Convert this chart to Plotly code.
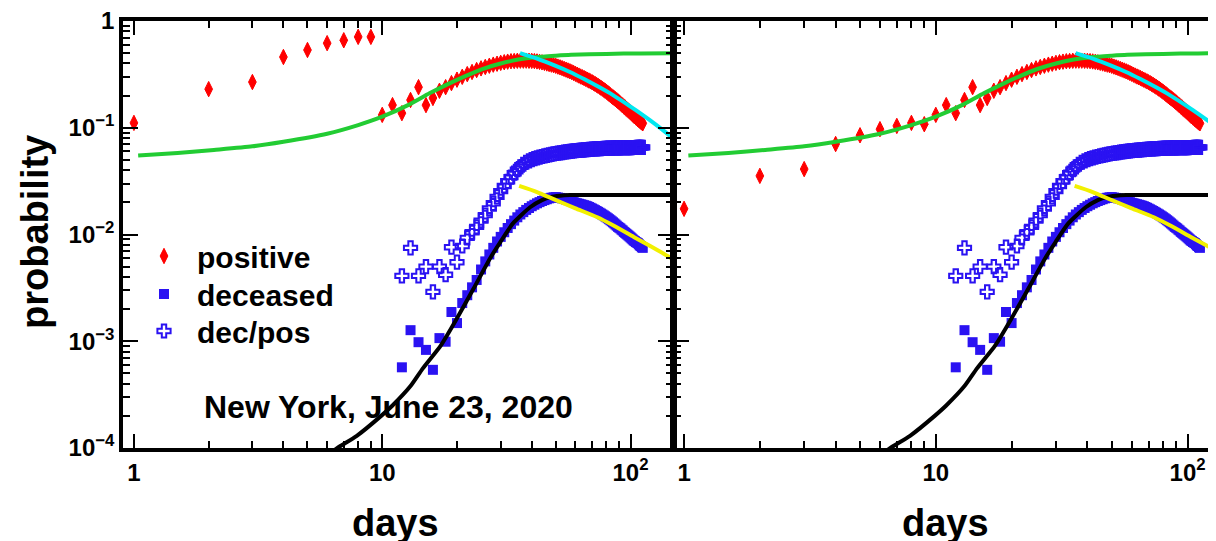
import plotly.graph_objects as go

# ---- values ----
# positive, days 1-9 (differ between the two panels)
days_early = [1, 2, 3, 4, 5, 6, 7, 8, 9]
pos_early_left = [0.111, 0.23, 0.268, 0.46, 0.535, 0.62, 0.66, 0.71, 0.71]
pos_early_right = [0.0174, 0.0354, 0.041, 0.0704, 0.085, 0.097, 0.104, 0.111, 0.108]

# positive, days 10-112 (same in both panels)
days_pos = list(range(10, 113))
pos_values = [
    0.132, 0.163, 0.137, 0.182, 0.240, 0.163, 0.190,
    0.222, 0.240, 0.262, 0.282, 0.300, 0.318, 0.333, 0.347, 0.360, 0.371,
    0.381, 0.390, 0.398, 0.405, 0.411, 0.416, 0.420, 0.422, 0.424, 0.425,
    0.425, 0.425, 0.424, 0.423, 0.421, 0.418, 0.414, 0.410, 0.405, 0.400,
    0.395, 0.390, 0.385, 0.380, 0.374, 0.368, 0.362, 0.356, 0.350, 0.344,
    0.338, 0.332, 0.326, 0.320, 0.314, 0.308, 0.302, 0.297, 0.292, 0.287,
    0.282, 0.277, 0.272, 0.267, 0.262, 0.257, 0.252, 0.247, 0.242, 0.237,
    0.232, 0.227, 0.222, 0.217, 0.212, 0.207, 0.202, 0.197, 0.193, 0.189,
    0.185, 0.181, 0.177, 0.173, 0.169, 0.165, 0.162, 0.158, 0.155, 0.151,
    0.148, 0.145, 0.142, 0.139, 0.136, 0.133, 0.130, 0.128, 0.125, 0.123,
    0.120, 0.118, 0.116, 0.114, 0.112, 0.110,
]

# deceased and dec/pos, days 12-112
days_dec = list(range(12, 113))
deceased = [
    0.00057, 0.00127, 0.00098, 0.00083, 0.00054, 0.00107, 0.00099, 0.00188, 0.00148, 0.00228,
    0.0027, 0.0032, 0.00375, 0.0047, 0.0056, 0.0065, 0.0075, 0.0086, 0.0095, 0.0105,
    0.0115, 0.0125, 0.0135, 0.0145, 0.0154, 0.0162, 0.0170, 0.0177, 0.0184, 0.0190,
    0.0196, 0.0201, 0.0206, 0.0210, 0.0214, 0.0218, 0.0221, 0.0223, 0.0224, 0.0222,
    0.0220, 0.0218, 0.0216, 0.0213, 0.0210, 0.0207, 0.0204, 0.0201, 0.0198, 0.0196,
    0.0194, 0.0192, 0.0190, 0.0188, 0.0186, 0.0184, 0.0181, 0.0178, 0.0175, 0.0172,
    0.0169, 0.0166, 0.0163, 0.0160, 0.0157, 0.0154, 0.0151, 0.0148, 0.0145, 0.0142,
    0.0139, 0.0136, 0.0133, 0.0130, 0.0127, 0.0124, 0.0121, 0.0118, 0.0116, 0.0114,
    0.0111, 0.0109, 0.0106, 0.0104, 0.0102, 0.0100, 0.0098, 0.0096, 0.0094, 0.0092,
    0.0090, 0.0088, 0.0087, 0.0085, 0.0084, 0.0083, 0.0081, 0.0079, 0.0078, 0.0076,
    0.0075,
]
dec_pos = [
    0.0041, 0.0075, 0.0041, 0.0050, 0.0029, 0.0050, 0.0042, 0.0076, 0.0055, 0.0078,
    0.0093, 0.0105, 0.0118, 0.0135, 0.0152, 0.0175, 0.0196, 0.0225, 0.0255, 0.0285,
    0.0315, 0.0345, 0.0375, 0.0405, 0.0430, 0.0455, 0.0475, 0.0490, 0.0503, 0.0513,
    0.0522, 0.0530, 0.0538, 0.0545, 0.0552, 0.0558, 0.0564, 0.0569, 0.0574, 0.0578,
    0.0582, 0.0586, 0.0590, 0.0594, 0.0597, 0.0600, 0.0603, 0.0606, 0.0609, 0.0612,
    0.0614, 0.0616, 0.0618, 0.0620, 0.0622, 0.0624, 0.0626, 0.0628, 0.0630, 0.0632,
    0.0633, 0.0635, 0.0636, 0.0637, 0.0638, 0.0639, 0.0640, 0.0641, 0.0642, 0.0643,
    0.0644, 0.0645, 0.0645, 0.0646, 0.0647, 0.0647, 0.0648, 0.0648, 0.0649, 0.0649,
    0.0650, 0.0650, 0.0650, 0.0651, 0.0651, 0.0651, 0.0652, 0.0652, 0.0652, 0.0652,
    0.0653, 0.0653, 0.0653, 0.0653, 0.0654, 0.0654, 0.0654, 0.0654, 0.0655, 0.0655,
    0.0655,
]

# fitted curves
green_x = [1.04, 1.5, 2.1, 3, 4, 6, 8, 10, 12.7, 15.5, 18.3, 21.6, 25.3, 30, 35.3, 41.4, 50, 57.6, 80, 110, 150]
green_y = [0.055, 0.058, 0.062, 0.067, 0.074, 0.088, 0.106, 0.127, 0.163, 0.21, 0.255, 0.305, 0.355, 0.40,
           0.435, 0.458, 0.473, 0.482, 0.492, 0.497, 0.50]
cyan_x = [35.9, 42, 50, 57, 65, 75, 85, 95, 105, 120, 135, 150]
cyan_y = [0.50, 0.445, 0.38, 0.333, 0.286, 0.239, 0.202, 0.171, 0.146, 0.117, 0.095, 0.078]
black_x = [6.0, 6.6, 7.9, 9.9, 11.0, 13, 14.6, 17.2, 20, 23.3, 27.2, 29.9, 33.6, 39.4, 44, 47.5, 52, 57, 80, 150]
black_y = [8.5e-5, 1.0e-4, 1.3e-4, 2.0e-4, 2.5e-4, 3.8e-4, 5.6e-4, 9.1e-4, 1.64e-3, 3.1e-3, 6.0e-3, 8.5e-3,
           1.27e-2, 1.8e-2, 2.1e-2, 2.24e-2, 2.31e-2, 2.34e-2, 2.34e-2, 2.34e-2]
yellow_x = [35.6, 42, 50, 60, 73.5, 85, 103, 120, 144, 150]
yellow_y = [0.0285, 0.025, 0.021, 0.0176, 0.0145, 0.0122, 0.0095, 0.0078, 0.0061, 0.0057]

x_tickvals = [1, 10, 100]
x_ticktext = ["1", "10", "10<sup>2</sup>"]
y_tickvals = [1e-4, 1e-3, 1e-2, 1e-1, 1]
y_ticktext = ["10<sup>\u22124</sup>", "10<sup>\u22123</sup>", "10<sup>\u22122</sup>", "10<sup>\u22121</sup>", "1"]

# the page puts the plot 8px in from the top-left corner, so the figure is 8px smaller
OFF = 8
W, H = 1216 - OFF, 541 - OFF


def fx(p):
    # window pixel -> paper x
    return (p - OFF) / W


def fy(p):
    # window pixel -> paper y
    return 1 - (p - OFF) / H


FONT = "Liberation Sans"
RED = "#ff0000"
BLUE = "#2a12f2"

fig = go.Figure()

# one small legend box per entry so each row sits where the reference has it
legend_rows = {"positive": ("legend", 256), "deceased": ("legend2", 294), "dec/pos": ("legend3", 331)}

for panel, pos_early in (("", pos_early_left), ("2", pos_early_right)):
    xa, ya = "x" + panel, "y" + panel
    first = panel == ""
    fig.add_trace(go.Scatter(
        x=days_early + days_pos, y=pos_early + pos_values, xaxis=xa, yaxis=ya,
        mode="markers", name="positive", showlegend=first, legend=legend_rows["positive"][0],
        marker=dict(symbol="diamond-tall", size=11, color=RED, line=dict(color=RED, width=1)),
    ))
    fig.add_trace(go.Scatter(
        x=days_dec, y=deceased, xaxis=xa, yaxis=ya,
        mode="markers", name="deceased", showlegend=first, legend=legend_rows["deceased"][0],
        marker=dict(symbol="square", size=10, color=BLUE, line=dict(width=0)),
    ))
    fig.add_trace(go.Scatter(
        x=days_dec, y=dec_pos, xaxis=xa, yaxis=ya,
        mode="markers", name="dec/pos", showlegend=first, legend=legend_rows["dec/pos"][0],
        marker=dict(symbol="cross-open", size=11, color=BLUE, line=dict(color=BLUE, width=2)),
    ))
    for cx, cy, col in ((green_x, green_y, "#22cc33"), (cyan_x, cyan_y, "#00e8f0"),
                        (black_x, black_y, "black"), (yellow_x, yellow_y, "#f2f000")):
        fig.add_trace(go.Scatter(
            x=cx, y=cy, xaxis=xa, yaxis=ya, mode="lines", showlegend=False,
            line=dict(color=col, width=4, shape="spline", smoothing=0.6), hoverinfo="skip",
        ))

tickfont = dict(family=FONT, size=24, color="black", weight="bold")
minor_x = [k * 10 ** e for e in range(0, 3) for k in range(2, 10)]
minor_y = [k * 10.0 ** e for e in range(-4, 0) for k in range(2, 10)]

common_x = dict(
    type="log", showline=True, linecolor="black", linewidth=3.5, mirror="ticks",
    ticks="inside", ticklen=14, tickwidth=2, tickcolor="black",
    tickvals=x_tickvals, ticktext=x_ticktext, tickfont=tickfont,
    minor=dict(tickvals=minor_x, ticks="inside", ticklen=7, tickwidth=2, tickcolor="black", showgrid=False),
    showgrid=False, zeroline=False, automargin=False, ticklabeloverflow="allow",
)
common_y = dict(
    type="log", showline=True, linecolor="black", linewidth=3.5,
    ticks="inside", ticklen=15, tickwidth=2, tickcolor="black",
    tickvals=y_tickvals, ticktext=y_ticktext, tickfont=tickfont,
    minor=dict(tickvals=minor_y, ticks="inside", ticklen=7, tickwidth=2, tickcolor="black", showgrid=False),
    showgrid=False, zeroline=False, automargin=False, ticklabeloverflow="allow",
    range=[-4, 0], domain=[fy(448), fy(21)],
)

legend_font = dict(family=FONT, size=30, color="black", weight="bold")
legend_boxes = {}
for name, (key, row_y) in legend_rows.items():
    legend_boxes[key] = dict(
        x=fx(131), y=fy(row_y), xanchor="left", yanchor="middle",
        bgcolor="rgba(0,0,0,0)", borderwidth=0, itemwidth=56, font=legend_font,
    )

fig.update_layout(
    width=W, height=H,
    margin=dict(l=0, r=0, t=0, b=0, autoexpand=False),
    paper_bgcolor="white", plot_bgcolor="white",
    xaxis={**common_x, "domain": [fx(123), fx(673)], "range": [-0.044, 2.171], "anchor": "y"},
    yaxis={**common_y, "anchor": "x", "mirror": "ticks"},
    xaxis2={**common_x, "domain": [fx(674), 1.0], "range": [-0.040, 2.113], "anchor": "y2"},
    yaxis2={**common_y, "anchor": "x2", "mirror": False, "showticklabels": False},
    showlegend=True,
    **legend_boxes,
)

title_font = dict(family=FONT, size=38, color="black", weight="bold")
fig.add_annotation(text="probability", x=fx(35), y=fy(232), xref="paper", yref="paper",
                   xanchor="center", yanchor="middle", textangle=-90, showarrow=False, font=title_font)
for cx in (395, 945):
    fig.add_annotation(text="days", x=fx(cx), y=fy(523), xref="paper", yref="paper",
                       xanchor="center", yanchor="middle", showarrow=False, font=title_font)
fig.add_annotation(text="New York, June 23, 2020", x=fx(202), y=fy(407), xref="paper", yref="paper",
                   xanchor="left", yanchor="middle", showarrow=False,
                   font=dict(family=FONT, size=32, color="black", weight="bold"))

fig.write_html("out.html")
